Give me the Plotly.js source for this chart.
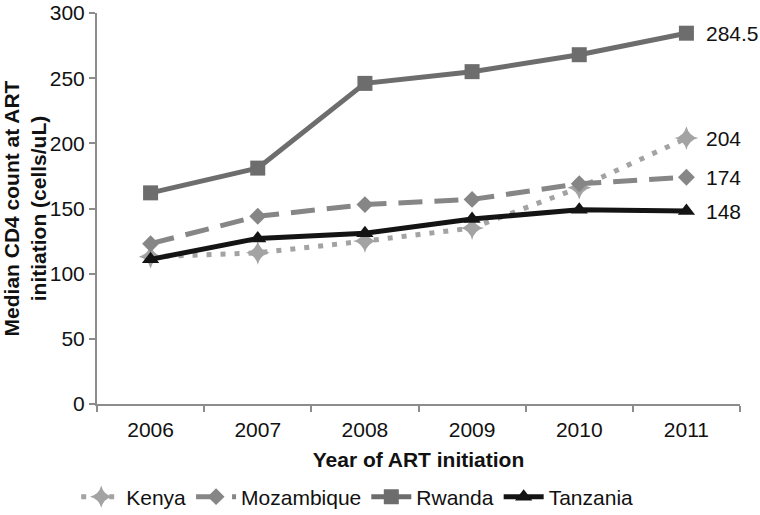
<!DOCTYPE html>
<html>
<head>
<meta charset="utf-8">
<script src="https://cdn.plot.ly/plotly-3.0.1.min.js"></script>
<style>html,body{margin:0;padding:0;background:#fff;}#chart{width:760px;height:515px;}</style>
</head>
<body>
<div id="chart"></div>
<script>
const years = ["2006", "2007", "2008", "2009", "2010", "2011"];
const kenya = [113, 116, 125, 135, 166, 204];
const mozambique = [123, 144, 153, 157, 169, 174];
const rwanda = [162, 181, 246, 255, 268, 284.5];
const tanzania = [111, 127, 131, 142, 149, 148];
const endLabels = ["204", "174", "284.5", "148"];

const font = "Liberation Sans, Arial, sans-serif";

const traces = [
  {name: "Kenya", x: years, y: kenya, mode: "lines+markers",
   line: {color: "#a3a3a3", width: 5, dash: "5px,9px"},
   marker: {symbol: "star-diamond", size: 17, color: "#a3a3a3"}},
  {name: "Mozambique", x: years, y: mozambique, mode: "lines+markers",
   line: {color: "#868686", width: 5, dash: "24px,12px"},
   marker: {symbol: "diamond", size: 13, color: "#868686"}},
  {name: "Rwanda", x: years, y: rwanda, mode: "lines+markers",
   line: {color: "#6d6d6d", width: 5},
   marker: {symbol: "square", size: 15, color: "#6d6d6d"}},
  {name: "Tanzania", x: years, y: tanzania, mode: "lines+markers",
   line: {color: "#141414", width: 5},
   marker: {symbol: "triangle-up", size: 15, color: "#141414"}}
];

const series = [kenya, mozambique, rwanda, tanzania];
const annotations = series.map((s, i) => ({
  x: years.length - 1, y: s[s.length - 1], xref: "x", yref: "y",
  text: endLabels[i], showarrow: false, xanchor: "left", yanchor: "middle",
  xshift: 18, font: {family: font, size: 21, color: "#111"}
}));

const layout = {
  width: 760, height: 515,
  margin: {l: 97, r: 20, t: 13, b: 111, autoexpand: false},
  paper_bgcolor: "#fff", plot_bgcolor: "#fff",
  font: {family: font, size: 21, color: "#111"},
  showlegend: true,
  legend: {orientation: "h", x: 0.47, xref: "container", xanchor: "center",
           y: 0.035, yref: "container", yanchor: "middle",
           font: {family: font, size: 21, color: "#111"}, itemwidth: 40, tracegroupgap: 0},
  xaxis: {type: "category", range: [-0.5, 5.5], tickson: "boundaries",
          showline: true, linecolor: "#8c8c8c", linewidth: 2,
          ticks: "outside", ticklen: 6, tickcolor: "#8c8c8c", tickwidth: 2,
          ticklabelstandoff: 6,
          showgrid: false, zeroline: false, automargin: false,
          tickfont: {family: font, size: 21, color: "#111"},
          title: {text: "<b>Year of ART initiation</b>", font: {family: font, size: 21, color: "#111"}, standoff: 12}},
  yaxis: {range: [0, 300], dtick: 50, showline: true, linecolor: "#8c8c8c", linewidth: 2,
          ticks: "outside", ticklen: 6, tickcolor: "#8c8c8c", tickwidth: 2,
          showgrid: false, zeroline: false, automargin: false,
          tickfont: {family: font, size: 21, color: "#111"},
          title: {text: "<b>Median CD4 count at ART<br>initiation (cells/uL)</b>", font: {family: font, size: 21, color: "#111"}, standoff: 6}},
  annotations: annotations
};

Plotly.newPlot("chart", traces, layout, {displayModeBar: false, staticPlot: true});
</script>
</body>
</html>
